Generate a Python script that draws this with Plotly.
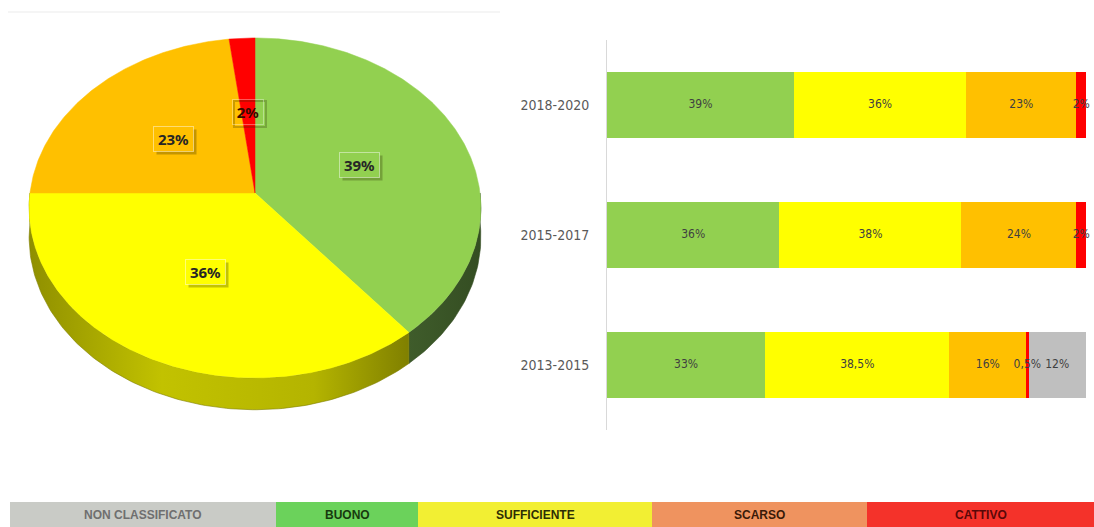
import math
import plotly.graph_objects as go

# ---- data -------------------------------------------------------------
# overall distribution of classes in the last period (pie)
pie_classes = ["Buono", "Sufficiente", "Scarso", "Cattivo"]
pie_values = [39, 36, 23, 2]

# distribution per period (stacked bars)
periods = ["2013-2015", "2015-2017", "2018-2020"]
bar_classes = ["Buono", "Sufficiente", "Scarso", "Cattivo", "Non classificato"]
buono = [33, 36, 39]
sufficiente = [38.5, 38, 36]
scarso = [16, 24, 23]
cattivo = [0.5, 2, 2]
non_classificato = [12, 0, 0]

# class legend strip at the bottom
legend_labels = ["NON CLASSIFICATO", "BUONO", "SUFFICIENTE", "SCARSO", "CATTIVO"]

# ---- styles -------------------------------------------------------------
W, H = 1094, 527
class_colors = {
    "Buono": "#92d050",
    "Sufficiente": "#ffff00",
    "Scarso": "#ffc000",
    "Cattivo": "#ff0000",
    "Non classificato": "#bfbfbf",
}
side_colors = {
    "Buono": [[0, "#3f5c2b"], [1, "#344d22"]],
    "Sufficiente": [[0, "#8f8f00"], [0.35, "#c2c200"], [0.75, "#b4b400"], [1, "#808000"]],
    "Scarso": [[0, "#a07800"], [1, "#a07800"]],
    "Cattivo": [[0, "#a00000"], [1, "#a00000"]],
}
legend_fill = ["#c9cbc6", "#6bd25b", "#f2ef33", "#ef935f", "#f4322a"]
legend_text = ["#6f6f6f", "#173a0e", "#2e2e05", "#3a1a08", "#5a0808"]
legend_edges = [10, 276, 418, 652, 867, 1094]

# pseudo-3D pie geometry (pixel units, y up, origin at pie centre)
RX, RY, K, DEPTH = 225.0, 168.7, 0.088, 29.0


def proj(theta_deg, r=1.0, drop=0.0):
    t = math.radians(theta_deg)
    u, v = r * math.sin(t), r * math.cos(t)
    d = 1 + K * v
    return RX * u / d, (RY * v - drop * DEPTH) / d


def arc(a0, a1, drop=0.0, step=1.0):
    n = max(2, int(abs(a1 - a0) / step) + 1)
    pts = [proj(a0 + (a1 - a0) * i / (n - 1), 1.0, drop) for i in range(n)]
    return pts


fig = go.Figure()

# slice angles, clockwise from 12 o'clock
total = sum(pie_values)
angles = []
acc = 0.0
for v in pie_values:
    a0 = acc / total * 360
    acc += v
    angles.append((a0, acc / total * 360))

# side walls (front half only)
for name, (a0, a1) in zip(pie_classes, angles):
    s0, s1 = max(a0, 90), min(a1, 270)
    if s1 <= s0:
        continue
    top = arc(s0, s1)
    bot = arc(s1, s0, drop=1.0)
    pts = top + bot + [top[0]]
    fig.add_trace(go.Scatter(
        x=[p[0] for p in pts], y=[p[1] for p in pts],
        mode="lines", fill="toself",
        line=dict(width=0.6, color=side_colors[name][-1][1]),
        fillgradient=dict(type="horizontal", colorscale=side_colors[name]),
        xaxis="x2", yaxis="y2", hoverinfo="skip", showlegend=False,
    ))

# top face
for name, (a0, a1) in zip(pie_classes, angles):
    pts = [(0.0, 0.0)] + arc(a0, a1, step=0.5) + [(0.0, 0.0)]
    fig.add_trace(go.Scatter(
        x=[p[0] for p in pts], y=[p[1] for p in pts],
        mode="lines", fill="toself", fillcolor=class_colors[name],
        line=dict(width=0.5, color=class_colors[name]),
        xaxis="x2", yaxis="y2", hoverinfo="skip", showlegend=False,
    ))

annotations = []
# pie value labels in little boxes with a drop shadow
label_font = dict(family="Noto Sans", size=15, weight="bold")
for name, v, (a0, a1) in zip(pie_classes, pie_values, angles):
    lx, ly = proj((a0 + a1) / 2, 0.5)
    txt = f"{v}%"
    box_w = 9 * len(txt) + 8
    common = dict(x=lx, y=ly, xref="x2", yref="y2", showarrow=False,
                  xanchor="center", yanchor="middle", borderpad=2,
                  width=box_w, height=20)
    if v < 5:
        # the box straddles two slices: keep it see-through, outline the shadow only
        annotations.append(dict(common, text=" ", xshift=2, yshift=-2,
                                bordercolor="rgba(40,40,0,0.25)", borderwidth=2,
                                font=label_font))
        annotations.append(dict(common, text=txt, bordercolor="rgba(255,255,255,0.35)",
                                borderwidth=1, font=dict(label_font, color="#3a0a00")))
    else:
        annotations.append(dict(common, text=" ", xshift=3, yshift=-3,
                                bgcolor="rgba(40,40,0,0.28)", font=label_font))
        annotations.append(dict(common, text=txt, bgcolor=class_colors[name],
                                bordercolor="rgba(255,255,255,0.45)", borderwidth=1,
                                font=dict(label_font, color="#262626")))

# stacked horizontal bars
series = [buono, sufficiente, scarso, cattivo, non_classificato]
for name, vals in zip(bar_classes, series):
    fig.add_trace(go.Bar(
        y=periods, x=vals, orientation="h", name=name,
        marker=dict(color=class_colors[name], line=dict(width=0)),
        width=0.51, hoverinfo="skip", showlegend=False,
    ))

# segment labels at the centre of each segment
lab_x, lab_y, lab_t = [], [], []
for i, p in enumerate(periods):
    left = 0.0
    for vals in series:
        v = vals[i]
        if v > 0:
            lab_x.append(left + v / 2)
            lab_y.append(p)
            lab_t.append(f"{v:g}".replace(".", ",") + "%")
        left += v
fig.add_trace(go.Scatter(
    x=lab_x, y=lab_y, text=lab_t, mode="text", cliponaxis=False,
    textfont=dict(family="Liberation Sans Narrow, DejaVu Sans Condensed, Noto Sans",
                  size=12, color="#404040"),
    hoverinfo="skip", showlegend=False,
))

# bottom class strip
shapes = []
for i, lab in enumerate(legend_labels):
    x0, x1 = legend_edges[i] / W, legend_edges[i + 1] / W
    shapes.append(dict(type="rect", xref="paper", yref="paper",
                       x0=x0, x1=x1, y0=0, y1=25 / H,
                       fillcolor=legend_fill[i], line=dict(width=0), layer="below"))
    annotations.append(dict(x=(x0 + x1) / 2, y=12.5 / H, xref="paper", yref="paper",
                            xanchor="center", yanchor="middle",
                            text=lab, showarrow=False,
                            font=dict(family="Liberation Sans", size=12,
                                      color=legend_text[i], weight="bold")))

# thin rule above the pie
shapes.append(dict(type="line", xref="paper", yref="paper",
                   x0=8 / W, x1=500 / W, y0=1 - 12 / H, y1=1 - 12 / H,
                   line=dict(color="#ebebeb", width=1)))

fig.update_layout(
    width=W, height=H,
    margin=dict(l=0, r=0, t=0, b=0),
    paper_bgcolor="white", plot_bgcolor="rgba(0,0,0,0)",
    barmode="stack", bargap=0,
    shapes=shapes, annotations=annotations,
    xaxis=dict(domain=[607 / W, 1086 / W], range=[0, 100], visible=False,
               fixedrange=True),
    yaxis=dict(domain=[(H - 430) / H, (H - 40) / H], type="category",
               categoryorder="array", categoryarray=periods, range=[-0.5, 2.5],
               showline=True, linecolor="#d9d9d9", linewidth=1, showgrid=False,
               ticks="", ticklabelstandoff=14, zeroline=False, fixedrange=True,
               tickfont=dict(family="Liberation Sans Narrow, DejaVu Sans Condensed, Noto Sans",
                             size=14, color="#595959")),
    xaxis2=dict(domain=[0, 500 / W], range=[-255, 245], visible=False,
                anchor="y2", fixedrange=True),
    yaxis2=dict(domain=[0.15, 1], range=[-255, 193], visible=False,
                anchor="x2", fixedrange=True),
)

fig.write_html("out.html")
